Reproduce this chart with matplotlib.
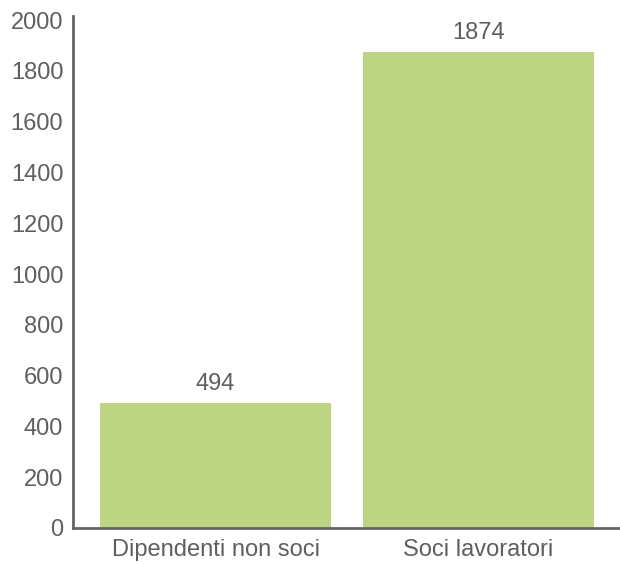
import matplotlib
matplotlib.use('Agg')
import matplotlib.pyplot as plt

plt.rcParams['font.family'] = ['Liberation Sans', 'DejaVu Sans']

categorie = ['Dipendenti non soci', 'Soci lavoratori']
valori = [494, 1874]

grigio = '#5f5f5f'
verde = '#bdd582'

fig = plt.figure(figsize=(6.2, 5.62), dpi=100)
ax = fig.add_axes([0.1177, 0.0605, 0.8823, 0.911])

x = range(len(categorie))
barre = ax.bar(x, valori, width=0.878, color=verde, zorder=2)

for rect, v in zip(barre, valori):
    ax.text(rect.get_x() + rect.get_width() / 2, v + 30, str(v),
            ha='center', va='bottom', fontsize=17, color=grigio)

ax.set_xlim(-0.542, 1.538)
ax.set_ylim(0, 2016)
ax.set_yticks(range(0, 2001, 200))
ax.set_xticks(list(x))
ax.set_xticklabels(categorie)

ax.tick_params(axis='both', length=0, labelsize=17, labelcolor=grigio)
ax.tick_params(axis='y', pad=7)
ax.tick_params(axis='x', pad=8)

for lato in ['top', 'right']:
    ax.spines[lato].set_visible(False)
for lato in ['left', 'bottom']:
    ax.spines[lato].set_color('#666666')
    ax.spines[lato].set_linewidth(2)

fig.savefig('out.png', dpi=100)
